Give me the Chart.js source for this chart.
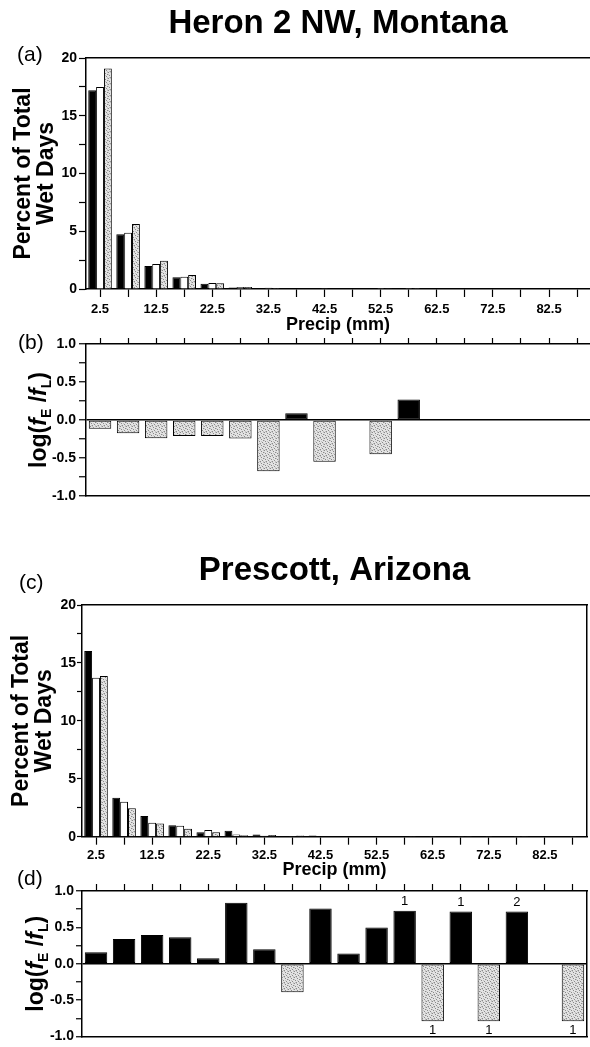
<!DOCTYPE html>
<html>
<head>
<meta charset="utf-8">
<title>Heron 2 NW, Montana / Prescott, Arizona</title>
<script src="https://cdn.jsdelivr.net/npm/chart.js@4.4.1/dist/chart.umd.min.js"></script>
<style>
  html, body { margin: 0; padding: 0; background: #fff; overflow: hidden; }
  body { width: 590px; height: 1047px; position: relative; font-family: "Liberation Sans", Arial, sans-serif; }
  .panel { position: absolute; left: 0; }
  .panel canvas { display: block; }
  .letra { position: absolute; font-size: 21px; line-height: 1; color: #000; }
</style>
</head>
<body>
<div class="panel" style="top:0px"><canvas id="graficoA" width="590" height="340"></canvas></div>
<div class="panel" style="top:330px"><canvas id="graficoB" width="590" height="180"></canvas></div>
<div class="panel" style="top:520px"><canvas id="graficoC" width="590" height="365"></canvas></div>
<div class="panel" style="top:875px"><canvas id="graficoD" width="590" height="172"></canvas></div>
<div class="letra" style="left:17px;top:43px">(a)</div>
<div class="letra" style="left:18px;top:331px">(b)</div>
<div class="letra" style="left:19px;top:571px">(c)</div>
<div class="letra" style="left:17px;top:867px">(d)</div>
<script>
const binesPrecip = [2.5, 7.5, 12.5, 17.5, 22.5, 27.5, 32.5, 37.5, 42.5, 47.5, 52.5, 57.5, 62.5, 67.5, 72.5, 77.5, 82.5, 87.5];
const etiquetasPrecip = ['2.5', '12.5', '22.5', '32.5', '42.5', '52.5', '62.5', '72.5', '82.5'];

const marcasPct = [0, 2.5, 5, 7.5, 10, 12.5, 15, 17.5, 20];
const etiquetasPct = ['0', '5', '10', '15', '20'];
const marcasLog = [-1, -0.75, -0.5, -0.25, 0, 0.25, 0.5, 0.75, 1];
const etiquetasLog = [-1, -0.5, 0, 0.5, 1];

// Heron 2 NW, Montana
const heronNegro = [17.2, 4.73, 1.99, 1.01, 0.46, 0.12, 0.06, 0.03, 0.02, 0, 0.01, 0.02, 0, 0, 0, 0, 0, 0];
const heronBlanco = [17.5, 4.87, 2.16, 1.07, 0.52, 0.17, 0.10, 0.03, 0.02, 0, 0.01, 0.01, 0, 0, 0, 0, 0, 0];
const heronGris = [19.1, 5.63, 2.45, 1.21, 0.50, 0.17, 0.08, 0.04, 0.03, 0, 0.02, 0.01, 0, 0, 0, 0, 0, 0];
const cocienteHeron = [-0.115, -0.175, -0.24, -0.21, -0.21, -0.245, -0.675, 0.09, -0.55, null, -0.45, 0.27, null, null, null, null, null, null];

// Prescott, Arizona
const prescottNegro = [16.03, 3.37, 1.79, 0.98, 0.38, 0.52, 0.20, 0.05, 0.10, 0.05, 0.06, 0.04, 0, 0.02, 0, 0.02, 0, 0];
const prescottBlanco = [13.73, 3.02, 1.21, 0.95, 0.58, 0.20, 0.08, 0.07, 0.04, 0.03, 0.03, 0.02, 0.01, 0.01, 0.01, 0.01, 0, 0.01];
const prescottGris = [13.88, 2.45, 1.15, 0.69, 0.38, 0.12, 0.14, 0.10, 0.03, 0.04, 0.02, 0.01, 0.03, 0.01, 0.03, 0.01, 0, 0.03];
const cocientePrescott = [0.16, 0.34, 0.395, 0.365, 0.075, 0.84, 0.20, -0.39, 0.76, 0.14, 0.50, 0.73, -0.79, 0.72, -0.79, 0.72, null, -0.79];
const conteosPrescott = [null, null, null, null, null, null, null, null, null, null, null, '1', '1', '1', '1', '2', null, '1'];

const FUENTE = '"Liberation Sans", Arial, sans-serif';
Chart.defaults.font.family = FUENTE;
Chart.defaults.color = '#000';

function crearPunteado() {
    const c = document.createElement('canvas');
    c.width = 6; c.height = 6;
    const g = c.getContext('2d');
    g.fillStyle = '#e3e3e3';
    g.fillRect(0, 0, 6, 6);
    g.fillStyle = '#8a8a8a';
    [[0, 0], [3, 1], [5, 2], [1, 3], [4, 4], [2, 5]].forEach(([x, y]) => g.fillRect(x, y, 1, 1));
    g.fillStyle = '#c2c2c2';
    [[2, 0], [5, 0], [0, 2], [3, 3], [5, 5], [1, 5]].forEach(([x, y]) => g.fillRect(x, y, 1, 1));
    return g.createPattern(c, 'repeat');
}
const punteado = crearPunteado();

// eje de precipitacion con etiquetas abajo
function ejeBinesAbajo(maximo, alto, pad) {
    return {
        type: 'linear', position: 'bottom', min: 0, max: maximo, offset: false,
        afterBuildTicks: e => { e.ticks = binesPrecip.map(v => ({ value: v })); },
        afterFit: e => { e.height = alto; },
        grid: { offset: false, drawOnChartArea: false, tickLength: 8, tickColor: '#000', tickWidth: 1.2 },
        border: { display: true, color: '#000', width: 1.5 },
        ticks: {
            autoSkip: false, maxRotation: 0, padding: pad,
            font: { size: 13, weight: 'bold' },
            callback: v => etiquetasPrecip.includes(String(v)) ? String(v) : ''
        },
        title: { display: true, text: 'Precip (mm)', font: { size: 18, weight: 'bold' }, padding: { top: 0, bottom: 4.2 } }
    };
}

// eje de precipitacion arriba, solo marcas
function ejeBinesArriba(maximo, alto, largo) {
    return {
        type: 'linear', position: 'top', min: 0, max: maximo, offset: false,
        afterBuildTicks: e => { e.ticks = binesPrecip.map(v => ({ value: v })); },
        afterFit: e => { e.height = alto; },
        grid: { offset: false, drawOnChartArea: false, tickLength: largo, tickColor: '#000', tickWidth: 1.2 },
        border: { display: true, color: '#000', width: 1.5 },
        ticks: { display: false, autoSkip: false }
    };
}

// solo la linea del borde
function ejeBorde(posicion, tam) {
    return {
        type: 'linear', position: posicion,
        afterFit: e => { if (e.isHorizontal()) e.height = tam; else e.width = tam; },
        grid: { display: false, drawTicks: false },
        border: { display: true, color: '#000', width: 1.5 },
        ticks: { display: false }
    };
}

function ejePct(ancho, largo, pad, padTitulo) {
    return {
        type: 'linear', position: 'left', min: 0, max: 20,
        afterBuildTicks: e => { e.ticks = marcasPct.map(v => ({ value: v })); },
        afterFit: e => { e.width = ancho; },
        grid: { drawOnChartArea: false, tickLength: largo, tickColor: '#000', tickWidth: 1.2 },
        border: { display: true, color: '#000', width: 1.5 },
        ticks: {
            autoSkip: false, padding: pad,
            font: { size: 14, weight: 'bold' },
            callback: v => etiquetasPct.includes(String(v)) ? String(v) : ''
        },
        title: {
            display: true, text: ['Percent of Total', 'Wet Days'],
            font: { size: 23, weight: 'bold', lineHeight: 1 },
            padding: { top: padTitulo, bottom: 0 }
        }
    };
}

function ejeLog(ancho, largo, pad) {
    return {
        type: 'linear', position: 'left', min: -1, max: 1,
        afterBuildTicks: e => { e.ticks = marcasLog.map(v => ({ value: v })); },
        afterFit: e => { e.width = ancho; },
        grid: {
            drawOnChartArea: true,
            color: c => (c.tick && c.tick.value === 0) ? '#000' : 'rgba(0,0,0,0)',
            lineWidth: 1.5,
            tickLength: largo, tickColor: '#000', tickWidth: 1.2
        },
        border: { display: true, color: '#000', width: 1.5 },
        ticks: {
            autoSkip: false, padding: pad,
            font: { size: 14, weight: 'bold' },
            callback: v => etiquetasLog.includes(v) ? v.toFixed(1) : ''
        }
    };
}

// titulo del eje log(fE/fL) con subindices
const tituloLog = {
    id: 'tituloLog',
    afterDraw(chart, args, opts) {
        const { ctx, chartArea } = chart;
        const grande = 'bold 23px ' + FUENTE;
        const italica = 'italic bold 23px ' + FUENTE;
        const chica = 'bold 14px ' + FUENTE;
        const partes = [
            { t: 'log(', f: grande, dy: 0 },
            { t: 'f', f: italica, dy: 0 },
            { t: 'E', f: chica, dy: 5 },
            { t: ' /', f: grande, dy: 0 },
            { t: 'f', f: italica, dy: 0 },
            { t: 'L', f: chica, dy: 5 },
            { t: ')', f: grande, dy: 0 }
        ];
        ctx.save();
        ctx.translate(chartArea.left - opts.distancia, (chartArea.top + chartArea.bottom) / 2);
        ctx.rotate(-Math.PI / 2);
        ctx.fillStyle = '#000';
        ctx.textBaseline = 'alphabetic';
        ctx.textAlign = 'left';
        let total = 0;
        partes.forEach(p => { ctx.font = p.f; p.w = ctx.measureText(p.t).width; total += p.w; });
        let x = -total / 2;
        partes.forEach(p => { ctx.font = p.f; ctx.fillText(p.t, x, p.dy); x += p.w; });
        ctx.restore();
    }
};

// numeros sobre / debajo de las barras
const conteos = {
    id: 'conteos',
    afterDatasetsDraw(chart, args, opts) {
        const ctx = chart.ctx;
        const meta = chart.getDatasetMeta(0);
        const datos = chart.data.datasets[0].data;
        ctx.save();
        ctx.font = '13px ' + FUENTE;
        ctx.fillStyle = '#000';
        ctx.textAlign = 'center';
        ctx.textBaseline = 'middle';
        meta.data.forEach((barra, i) => {
            const n = opts.valores[i];
            if (!n || datos[i] === null) return;
            const y = datos[i] >= 0 ? barra.y - 9 : barra.y + 9;
            ctx.fillText(n, barra.x, y);
        });
        ctx.restore();
    }
};

function cargarHistograma(id, titulo, padTitulo, negro, blanco, gris, escalas) {
    new Chart(document.getElementById(id), {
        type: 'bar',
        data: {
            labels: binesPrecip,
            datasets: [
                { label: 'negro', data: negro, backgroundColor: '#000', borderColor: '#000', borderWidth: 1 },
                { label: 'blanco', data: blanco, backgroundColor: '#fff', borderColor: '#000', borderWidth: 1 },
                { label: 'punteado', data: gris, backgroundColor: punteado, borderColor: '#000', borderWidth: 1 }
            ]
        },
        options: {
            responsive: false,
            animation: false,
            devicePixelRatio: 1,
            layout: { padding: 0 },
            datasets: { bar: { barPercentage: 1, categoryPercentage: 0.84 } },
            plugins: {
                legend: { display: false },
                tooltip: { enabled: false },
                title: {
                    display: true, text: titulo, fullSize: false, color: '#000',
                    font: { size: 33, weight: 'bold' },
                    padding: padTitulo
                }
            },
            scales: escalas
        }
    });
}

function cargarCociente(id, valores, escalas, distancia, numeros) {
    new Chart(document.getElementById(id), {
        type: 'bar',
        data: {
            labels: binesPrecip,
            datasets: [{
                label: 'log(fE/fL)',
                data: valores,
                backgroundColor: c => c.raw > 0 ? '#000' : punteado,
                borderColor: '#000',
                borderWidth: 1,
                borderSkipped: false
            }]
        },
        options: {
            responsive: false,
            animation: false,
            devicePixelRatio: 1,
            layout: { padding: 0 },
            datasets: { bar: { barPercentage: 1, categoryPercentage: 0.8 } },
            plugins: {
                legend: { display: false },
                tooltip: { enabled: false },
                tituloLog: { distancia: distancia },
                conteos: { valores: numeros }
            },
            scales: escalas
        },
        plugins: [tituloLog, conteos]
    });
}

cargarHistograma('graficoA', 'Heron 2 NW, Montana', { top: 4, bottom: 14.4 },
    heronNegro, heronBlanco, heronGris, {
        x: ejeBinesAbajo(89.8, 51, 5),
        xSup: ejeBorde('top', 0),
        y: ejePct(86, 7, 2, 12.5)
    });

cargarCociente('graficoB', cocienteHeron, {
    x: ejeBinesArriba(89.8, 14, 6),
    xInf: ejeBorde('bottom', 14),
    y: ejeLog(86, 7, 3)
}, 40, []);

cargarHistograma('graficoC', 'Prescott, Arizona', { top: 31, bottom: 14.4 },
    prescottNegro, prescottBlanco, prescottGris, {
        x: ejeBinesAbajo(90, 48.3, 3),
        xSup: ejeBorde('top', 0),
        y: ejePct(82, 5, 1, 10),
        yDer: ejeBorde('right', 3)
    });

cargarCociente('graficoD', cocientePrescott, {
    x: ejeBinesArriba(90, 16, 7),
    xInf: ejeBorde('bottom', 3),
    y: ejeLog(82, 6, 2),
    yDer: ejeBorde('right', 3)
}, 39, conteosPrescott);
</script>
</body>
</html>
